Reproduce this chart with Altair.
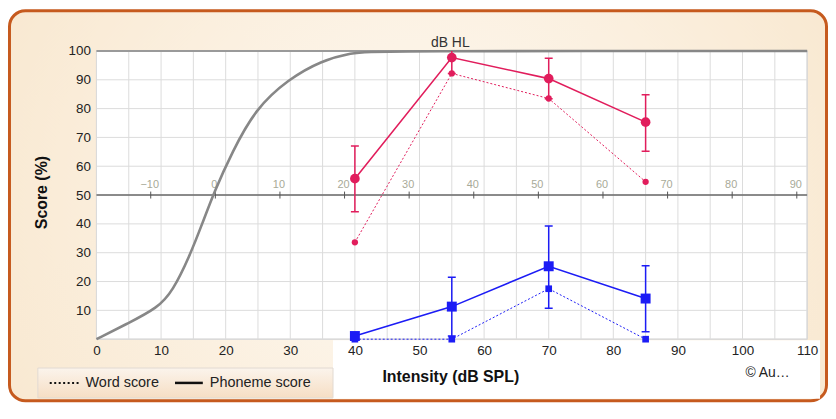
import altair as alt
import pandas as pd

# ---------------- data ----------------
intensity = [40, 55, 70, 85]
red_phoneme = [55.7, 97.7, 90.4, 75.3]
red_phoneme_lo = [44.2, 92.2, 83.4, 65.2]
red_phoneme_hi = [67.0, 103.2, 97.5, 84.8]
red_word = [33.6, 92.2, 83.5, 54.6]

blue_phoneme = [1.1, 11.3, 25.3, 14.1]
blue_phoneme_lo = [None, 1.1, 10.7, 2.6]
blue_phoneme_hi = [None, 21.5, 39.3, 25.5]
blue_word = [0, 0, 17.5, 0]

norm_x = [0, 4.8, 9.5, 11.8, 14.4, 16.4, 18.2, 21, 24.6, 29.7, 34.8, 39.5, 43, 110]
norm_y = [0, 5.4, 10.9, 16.7, 28.7, 40.2, 51, 64.9, 79.9, 90.2, 96.6, 99.4, 100, 100]

x_ticks = list(range(0, 111, 10))
y_ticks = list(range(10, 101, 10))
x_grid = list(range(0, 111, 5))
y_grid = list(range(0, 101, 10))
hl_ticks = list(range(-10, 91, 10))
HL_OFFSET = 18.4  # dB SPL at 0 dB HL
HL_LINE = 50      # score value at which the dB HL axis is drawn

# ---------------- styles ----------------
W, H = 715, 290
RED = "#E11D5C"
BLUE = "#1C1CF5"
FONT = "Liberation Sans"

xscale = alt.Scale(domain=[0, 110], nice=False, zero=False)
yscale = alt.Scale(domain=[0, 100], nice=False, zero=False)

xaxis = alt.Axis(values=x_ticks, grid=False, ticks=False, domain=False, zindex=1,
                 labelFontSize=13.5, labelColor="#222", labelPadding=4,
                 labelFont=FONT, labelFlush=False, labelOverlap=False,
                 title="Intensity (dB SPL)", titleFont=FONT, titleFontSize=16,
                 titleFontWeight="bold", titleColor="#111",
                 titleX=356, titleY=38, titleBaseline="middle", titleAlign="center")
yaxis = alt.Axis(values=y_ticks, grid=False, ticks=False, domain=False, zindex=1,
                 labelFontSize=13.5, labelColor="#222", labelPadding=6,
                 labelFont=FONT, labelFlush=False, labelOverlap=False,
                 title="Score (%)", titleFont=FONT, titleFontSize=16,
                 titleFontWeight="bold", titleColor="#111",
                 titleX=-55, titleY=142, titleAngle=270,
                 titleBaseline="middle", titleAlign="center")


def X(f):
    return alt.X(f, type="quantitative", scale=xscale, axis=xaxis)


def Y(f):
    return alt.Y(f, type="quantitative", scale=yscale, axis=yaxis)


def YD(v):
    return alt.YDatum(v, type="quantitative", scale=yscale, axis=yaxis)


one = pd.DataFrame({"a": [0]})

# ---------------- decoration ----------------
frame = alt.Chart(one).mark_rect(
    fill=alt.RadialGradient(gradient="radial", x1=0.5, y1=0.5, x2=0.5, y2=0.5, r1=0.2, r2=0.75,
                            stops=[alt.GradientStop(color="#FCF3E6", offset=0),
                                   alt.GradientStop(color="#F7E3C6", offset=1)]),
    stroke="#C65A1E", strokeWidth=3, cornerRadius=16).encode(
    x=alt.value(-87.5), x2=alt.value(734.5), y=alt.value(-40.5), y2=alt.value(352))

white_area = alt.Chart(one).mark_rect(fill="white").encode(
    x=alt.value(238), x2=alt.value(728), y=alt.value(291), y2=alt.value(350))

legend_box = alt.Chart(one).mark_rect(
    fill=alt.LinearGradient(gradient="linear", x1=0, x2=0, y1=0, y2=1,
                            stops=[alt.GradientStop(color="#FBF4EC", offset=0),
                                   alt.GradientStop(color="#F6DEC4", offset=1)]),
    stroke="#E2DAD2", strokeWidth=1).encode(
    x=alt.value(-59), x2=alt.value(238), y=alt.value(319), y2=alt.value(349))

leg_dot = alt.Chart(one).mark_rule(color="#111", strokeWidth=2, strokeDash=[2, 2.5]).encode(
    x=alt.value(-47), x2=alt.value(-18), y=alt.value(334))
leg_solid = alt.Chart(one).mark_rule(color="#111", strokeWidth=2.5).encode(
    x=alt.value(79), x2=alt.value(107), y=alt.value(334))
leg_t1 = alt.Chart(one).mark_text(align="left", baseline="middle", fontSize=14.5,
                                  font=FONT, color="#222").encode(
    x=alt.value(-11), y=alt.value(334), text=alt.value("Word score"))
leg_t2 = alt.Chart(one).mark_text(align="left", baseline="middle", fontSize=14.5,
                                  font=FONT, color="#222").encode(
    x=alt.value(114), y=alt.value(334), text=alt.value("Phoneme score"))

copyright_t = alt.Chart(one).mark_text(align="left", baseline="middle", fontSize=14,
                                       font=FONT, color="#222").encode(
    x=alt.value(653), y=alt.value(324), text=alt.value("© Au…"))

plot_bg = alt.Chart(one).mark_rect(fill="white", stroke="#C8C8C8", strokeWidth=1).encode(
    x=alt.value(0), x2=alt.value(W), y=alt.value(0), y2=alt.value(H))

vgrid = alt.Chart(pd.DataFrame({"g": x_grid})).mark_rule(color="#DCDCDC", strokeWidth=1).encode(
    x=X("g"), y=alt.value(0), y2=alt.value(H))
hgrid = alt.Chart(pd.DataFrame({"g": y_grid})).mark_rule(color="#DCDCDC", strokeWidth=1).encode(
    y=Y("g"), x=alt.value(0), x2=alt.value(W))
top_border = alt.Chart(one).mark_rule(color="#9A9A9A", strokeWidth=2).encode(
    x=alt.value(0), x2=alt.value(W), y=alt.value(0))

# ---------------- secondary dB HL axis ----------------
hl_df = pd.DataFrame({"hl": hl_ticks})
hl_line = alt.Chart(one).mark_rule(color="#6A6A6A", strokeWidth=1.5).encode(
    x=alt.value(0), x2=alt.value(W), y=YD(HL_LINE))
hl_tick = alt.Chart(hl_df).transform_calculate(spl=f"datum.hl + {HL_OFFSET}").mark_rule(
    color="#555", strokeWidth=1, yOffset=-3.5, y2Offset=3.5).encode(
    x=X("spl"), y=YD(HL_LINE), y2=alt.Y2Datum(HL_LINE))
hl_lab = alt.Chart(hl_df).transform_calculate(spl=f"datum.hl + {HL_OFFSET}").mark_text(
    fontSize=11, font=FONT, color="#A8AA98", dy=-10, dx=-1, baseline="middle").encode(
    x=X("spl"), y=YD(HL_LINE), text=alt.Text("hl:Q"))
hl_title = alt.Chart(one).mark_text(fontSize=14, font=FONT, color="#333",
                                    baseline="middle").encode(
    x=alt.value(356), y=alt.value(-8), text=alt.value("dB HL"))

# ---------------- normal curve ----------------
norm = alt.Chart(pd.DataFrame({"x": norm_x, "y": norm_y})).mark_line(
    color="#878787", strokeWidth=2.6, interpolate="basis").encode(x=X("x"), y=Y("y"))


# ---------------- series ----------------
def series(ph, lo, hi, wd, color, square, big, small):
    df = pd.DataFrame({"x": intensity, "ph": ph, "lo": lo, "hi": hi, "wd": wd})
    base = alt.Chart(df)
    layers = [
        base.mark_line(color=color, strokeWidth=1, strokeDash=[2, 2]).encode(x=X("x"), y=Y("wd")),
        base.mark_line(color=color, strokeWidth=1.6).encode(x=X("x"), y=Y("ph")),
        base.mark_rule(color=color, strokeWidth=1.5, clip=True).encode(
            x=X("x"), y=Y("lo"), y2=alt.Y2("hi")),
        base.mark_rule(color=color, strokeWidth=1.5, clip=True, xOffset=-4, x2Offset=4).encode(
            x=X("x"), x2=alt.X2("x"), y=Y("lo")),
        base.mark_rule(color=color, strokeWidth=1.5, clip=True, xOffset=-4, x2Offset=4).encode(
            x=X("x"), x2=alt.X2("x"), y=Y("hi")),
    ]
    if square:
        layers += [
            base.mark_square(color=color, size=small, opacity=1).encode(x=X("x"), y=Y("wd")),
            base.mark_square(color=color, size=big, opacity=1).encode(x=X("x"), y=Y("ph")),
        ]
    else:
        layers += [
            base.mark_circle(color=color, size=small, opacity=1).encode(x=X("x"), y=Y("wd")),
            base.mark_circle(color=color, size=big, opacity=1).encode(x=X("x"), y=Y("ph")),
        ]
    return layers


red_layers = series(red_phoneme, red_phoneme_lo, red_phoneme_hi, red_word, RED, False, 95, 40)
blue_layers = series(blue_phoneme, blue_phoneme_lo, blue_phoneme_hi, blue_word, BLUE, True, 100, 45)

chart = alt.layer(
    frame, white_area, legend_box, leg_dot, leg_solid, leg_t1, leg_t2, copyright_t,
    plot_bg, vgrid, hgrid, top_border,
    hl_line, hl_tick, hl_lab, hl_title,
    norm, *red_layers, *blue_layers,
).properties(
    width=W, height=H,
    padding={"left": 89, "top": 42, "right": 21, "bottom": 64},
    autosize=alt.AutoSizeParams(type="none"),
    background="white",
).configure_view(strokeWidth=0).configure_axis(labelOverlap=False)

chart.save("out.html", embed_options={"renderer": "svg", "actions": False})
